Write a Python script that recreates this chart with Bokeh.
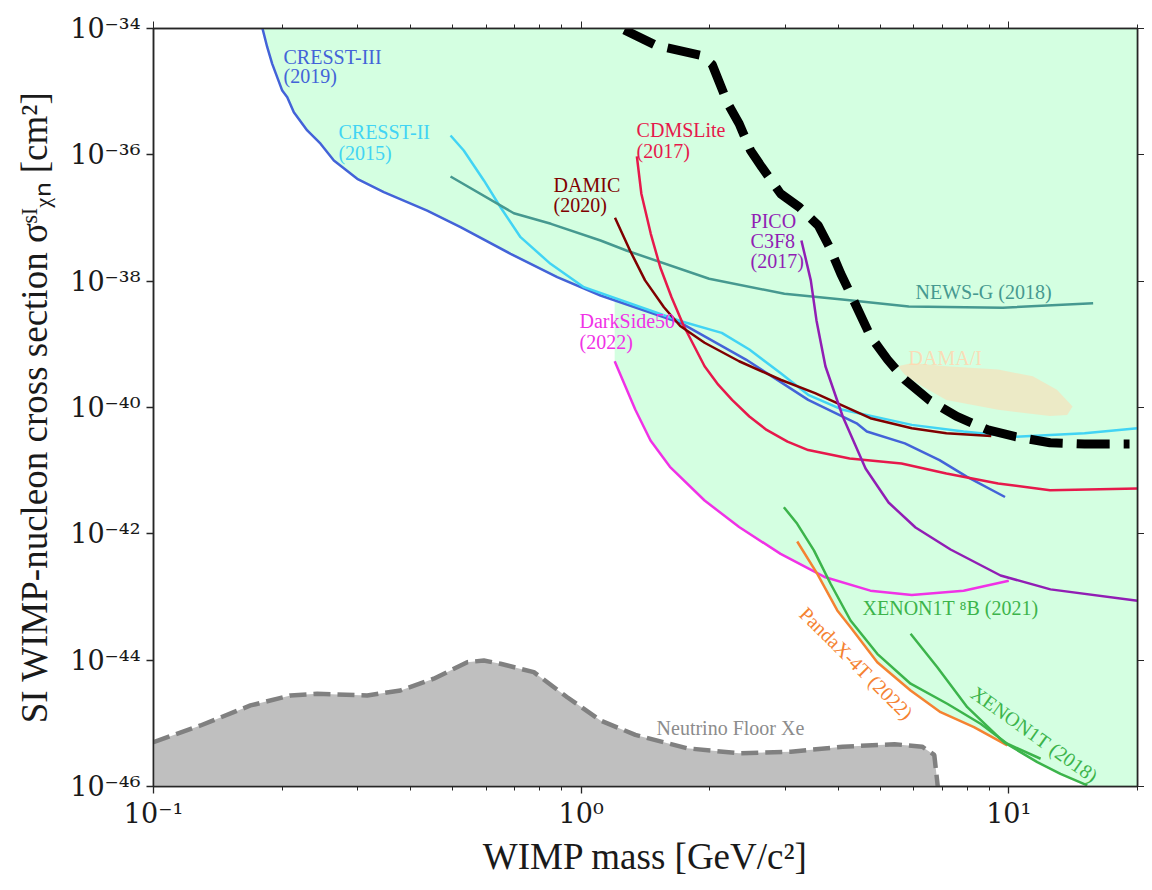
import numpy as np
from bokeh.plotting import figure
from bokeh.models import Range1d, FixedTicker, LogAxis, CustomJSTickFormatter
from bokeh.core.properties import value
from bokeh.embed import file_html
from bokeh.resources import INLINE

# ---------------- data (WIMP mass [GeV], cross section [cm^2]) ----------------
X_MIN, X_MAX = 0.1, 20.0
Y_MIN, Y_MAX = 1e-46, 1e-34
x_major = [0.1, 1.0, 10.0]
x_minor = [0.2, 0.3, 0.4, 0.5, 0.6, 0.7, 0.8, 0.9, 2, 3, 4, 5, 6, 7, 8, 9, 20]
y_major = [1e-46, 1e-44, 1e-42, 1e-40, 1e-38, 1e-36, 1e-34]

cresst3_m = [0.1795, 0.1845, 0.1895, 0.2000, 0.2055, 0.2129, 0.2288, 0.2458, 0.2641, 0.2995, 0.3456,
             0.4365, 0.5224, 0.6839, 0.8793, 1.110, 1.705, 2.429, 3.396, 4.408, 4.657, 5.715, 6.887,
             7.99, 9.80]
cresst3_s = [1.05e-34, 5.06e-35, 2.76e-35, 1.04e-35, 8.17e-36, 4.73e-36, 2.43e-36, 1.50e-36, 8.13e-37,
             4.18e-37, 2.56e-37, 1.31e-37, 7.16e-38, 2.71e-38, 1.16e-38, 5.93e-39, 2.20e-39, 5.74e-40,
             1.32e-40, 5.62e-41, 4.16e-41, 2.70e-41, 1.47e-41, 7.98e-42, 3.83e-42]

cresst2_m = [0.495, 0.5315, 0.5923, 0.6478, 0.7216, 0.848, 1.015, 1.705, 2.132, 2.474, 2.925, 3.396,
             4.09, 5.934, 7.84, 10.37, 15.04, 20.0]
cresst2_s = [2.02e-36, 1.17e-36, 3.93e-37, 1.48e-37, 4.97e-38, 1.88e-38, 8.03e-39, 2.34e-39, 1.52e-39,
             8.28e-40, 3.51e-40, 1.59e-40, 9.2e-41, 5.31e-41, 4.16e-41, 3.45e-41, 3.91e-41, 4.69e-41]

newsg_m = [0.495, 0.696, 0.850, 1.110, 1.276, 1.992, 2.988, 4.135, 5.837, 9.69, 15.75]
newsg_s = [4.54e-37, 1.19e-37, 8.09e-38, 4.41e-38, 3.06e-38, 1.09e-38, 6.31e-39, 5.07e-39, 3.97e-39,
           3.79e-39, 4.48e-39]

cdms_m = [1.350, 1.383, 1.455, 1.531, 1.627, 1.738, 1.944, 2.092, 2.254, 2.474, 2.715, 3.038, 3.396,
          4.245, 5.612, 7.147, 9.445, 12.49, 20.0]
cdms_s = [9.42e-37, 2.42e-37, 5.62e-38, 1.66e-38, 5.57e-39, 1.95e-39, 4.50e-40, 2.30e-40, 1.32e-40,
          7.21e-41, 4.41e-41, 2.88e-41, 2.12e-41, 1.56e-41, 1.30e-41, 9.04e-42, 6.27e-42, 4.90e-42,
          5.20e-42]

damic_m = [1.200, 1.301, 1.411, 1.562, 1.705, 1.944, 2.341, 2.927, 3.524, 4.746, 5.934, 7.147, 9.10]
damic_s = [1.01e-37, 3.06e-38, 1.03e-38, 3.87e-39, 1.95e-39, 1.06e-39, 5.40e-40, 2.75e-40, 1.69e-40,
           6.78e-41, 4.69e-41, 3.91e-41, 3.54e-41]

ds50_m = [1.198, 1.339, 1.453, 1.613, 1.944, 2.341, 2.927, 3.726, 4.746, 5.934, 7.84, 10.0]
ds50_s = [5.40e-40, 9.2e-41, 3.0e-41, 1.15e-41, 3.37e-42, 1.28e-42, 4.82e-43, 2.05e-43, 1.26e-43,
          1.08e-43, 1.26e-43, 1.81e-43]

pico_m = [3.274, 3.444, 3.551, 3.726, 4.09, 4.625, 5.235, 6.053, 7.31, 9.568, 12.52, 20.0]
pico_s = [4.41e-38, 1.03e-38, 2.39e-39, 4.50e-40, 7.21e-41, 1.08e-41, 3.13e-42, 1.26e-42, 5.65e-43,
          2.19e-43, 1.32e-43, 8.69e-44]

pandax_m = [3.201, 3.567, 3.972, 4.266, 4.926, 5.894, 6.927, 8.29, 9.92]
pandax_s = [7.57e-43, 2.33e-43, 6.12e-44, 3.33e-44, 9.29e-45, 3.31e-45, 1.50e-45, 8.69e-46, 4.47e-46]

xe8b_m = [2.979, 3.201, 3.502, 3.831, 4.266, 4.926, 5.894, 7.18, 8.59, 9.92, 11.87]
xe8b_s = [2.64e-42, 1.44e-42, 5.46e-43, 1.62e-43, 4.25e-44, 1.26e-44, 4.24e-45, 2.04e-45, 9.84e-46,
          4.75e-46, 2.75e-46]

xe18_m = [5.894, 6.806, 7.998, 9.74, 11.66, 13.21, 15.26]
xe18_s = [2.62e-44, 7.74e-45, 1.80e-45, 5.03e-46, 2.43e-46, 1.59e-46, 1.04e-46]

black_m = [1.262, 1.500, 1.914, 2.025, 2.204, 2.342, 2.490, 2.646, 2.928, 3.239, 3.585, 3.809, 4.048,
           4.302, 4.746, 5.207, 5.715, 6.510, 7.557, 8.94, 10.37, 12.49, 15.04, 19.16]
black_s = [9.5e-35, 5.38e-35, 3.74e-35, 2.69e-35, 6.43e-36, 3.10e-36, 1.17e-36, 6.37e-37, 2.42e-37,
           1.48e-37, 7.60e-38, 3.45e-38, 1.31e-38, 5.57e-39, 1.35e-39, 5.74e-40, 2.75e-40, 1.32e-40,
           7.21e-41, 4.41e-41, 3.45e-41, 2.77e-41, 2.64e-41, 2.64e-41]

floor_m = [0.1, 0.1288, 0.1686, 0.2091, 0.2414, 0.3161, 0.378, 0.4522, 0.5416, 0.5923, 0.6478, 0.775,
           0.928, 1.110, 1.339, 1.77, 2.341, 3.094, 4.09, 5.407, 6.272, 6.696, 6.823]
floor_s = [5.03e-46, 9.25e-46, 1.92e-45, 2.76e-45, 2.94e-45, 2.76e-45, 3.31e-45, 5.08e-45, 9.29e-45,
           9.88e-45, 8.77e-45, 6.46e-45, 2.59e-45, 1.11e-45, 6.56e-46, 4.03e-46, 3.36e-46, 3.56e-46,
           4.27e-46, 4.67e-46, 4.27e-46, 3.16e-46, 1.0e-46]

dama_m = [5.506, 5.934, 7.147, 9.445, 11.38, 12.96, 14.10, 13.70, 12.49, 9.445, 7.147, 6.272, 5.715]
dama_s = [4.50e-40, 5.08e-40, 4.50e-40, 3.98e-40, 3.12e-40, 1.91e-40, 1.04e-40, 7.64e-41, 7.36e-41,
          9.2e-41, 1.32e-40, 2.16e-40, 3.30e-40]

# ---------------- styles ----------------
C_BLUE, C_CYAN, C_TEAL, C_RED = "#4363d8", "#42d4f4", "#469990", "#e6194b"
C_MAROON, C_MAGENTA, C_PURPLE = "#800000", "#f032e6", "#911eb4"
C_ORANGE, C_GREEN, C_APRICOT = "#f58231", "#3cb44b", "#ffd8b1"
SERIF = "Liberation Serif"
TICK_FONT = "DejaVu Serif"

p = figure(width=1144, height=884, x_axis_type="log", y_axis_type="log",
           x_range=Range1d(X_MIN, X_MAX), y_range=Range1d(Y_MIN, Y_MAX),
           output_backend="svg", toolbar_location=None,
           min_border_left=153, min_border_right=7, min_border_top=28, min_border_bottom=98)
p.xgrid.visible = False
p.ygrid.visible = False
p.outline_line_color = "#262626"
p.outline_line_width = 1.5
p.background_fill_color = "white"
p.border_fill_color = "white"

sup_js = """
const sup = {"-":"\u207b","0":"\u2070","1":"\u00b9","2":"\u00b2","3":"\u00b3","4":"\u2074",
             "5":"\u2075","6":"\u2076","7":"\u2077","8":"\u2078","9":"\u2079"};
const e = Math.round(Math.log10(tick));
return "10" + String(e).split("").map(c => sup[c]).join("");
"""
blank_js = "return '';"

xa = p.xaxis[0]
ya = p.yaxis[0]
for ax in (xa, ya):
    ax.formatter = CustomJSTickFormatter(code=sup_js)
    ax.major_label_text_font = TICK_FONT
    ax.major_label_text_font_size = "27px"
    ax.major_label_text_color = "#1a1a1a"
    ax.axis_label_text_font = SERIF
    ax.axis_label_text_font_size = "37px"
    ax.axis_label_text_font_style = "normal"
    ax.axis_label_text_color = "#1a1a1a"
    ax.axis_line_color = "#262626"
    ax.axis_line_width = 1.5
    ax.major_tick_line_color = "#262626"
    ax.minor_tick_line_color = "#262626"
    ax.major_tick_line_width = 1.3
    ax.minor_tick_line_width = 1.0
    ax.major_tick_out = 7
    ax.major_tick_in = 0
    ax.minor_tick_in = 0

xa.ticker = FixedTicker(ticks=x_major, minor_ticks=x_minor)
xa.minor_tick_out = 4
xa.major_label_standoff = 4
xa.axis_label = "WIMP mass [GeV/c\u00b2]"
xa.axis_label_standoff = 4

ya.ticker = FixedTicker(ticks=y_major, minor_ticks=[])
ya.minor_tick_out = 0
ya.major_label_standoff = 6
ya.axis_label = "SI WIMP-nucleon cross section \u03c3\u02e2\u1d35\u1d6a\u2099 [cm\u00b2]"
ya.axis_label_standoff = 12

top_ax = LogAxis(ticker=FixedTicker(ticks=x_major, minor_ticks=x_minor),
                 formatter=CustomJSTickFormatter(code=blank_js),
                 major_label_text_font_size="0px", major_label_standoff=0,
                 major_tick_out=7, major_tick_in=0, minor_tick_out=4, minor_tick_in=0,
                 axis_line_color="#262626", axis_line_width=1.5,
                 major_tick_line_color="#262626", minor_tick_line_color="#262626")
right_ax = LogAxis(ticker=FixedTicker(ticks=y_major, minor_ticks=[]),
                   formatter=CustomJSTickFormatter(code=blank_js),
                   major_label_text_font_size="0px", major_label_standoff=0,
                   major_tick_out=7, major_tick_in=0, minor_tick_out=0, minor_tick_in=0,
                   axis_line_color="#262626", axis_line_width=1.5,
                   major_tick_line_color="#262626")
p.add_layout(top_ax, "above")
p.add_layout(right_ax, "right")

# ---------------- excluded region (above the lowest limit curve) ----------------
limit_curves = [(cresst3_m, cresst3_s), (cresst2_m, cresst2_s), (newsg_m, newsg_s), (cdms_m, cdms_s),
                (damic_m, damic_s), (ds50_m, ds50_s), (pico_m, pico_s), (pandax_m, pandax_s),
                (xe8b_m, xe8b_s), (xe18_m, xe18_s)]
g_lo, g_hi = cresst3_m[0], xe18_m[-1]
grid = np.logspace(np.log10(g_lo), np.log10(g_hi), 2000)
extra = []
for m, s in limit_curves:
    extra += [m[0], m[-1]]
grid = np.unique(np.concatenate([grid, np.array(extra)]))
grid = grid[(grid >= g_lo) & (grid <= g_hi)]
env = np.full(grid.shape, np.inf)
for m, s in limit_curves:
    v = np.interp(np.log10(grid), np.log10(m), np.log10(s), left=np.inf, right=np.inf)
    env = np.minimum(env, v)
poly_x = list(grid) + [X_MAX, X_MAX]
poly_y = list(10 ** env) + [Y_MIN, Y_MAX]
p.patch(poly_x, poly_y, fill_color="#aaffc3", fill_alpha=0.5, line_color=None)

# ---------------- neutrino floor ----------------
p.varea(x=floor_m, y1=[Y_MIN] * len(floor_m), y2=floor_s, fill_color="#bfbfbf")
p.line(floor_m, floor_s, line_color="#808080", line_width=4.5, line_dash="17 7")

# ---------------- DAMA/I ----------------
p.text(x=[5.831], y=[5.97e-40], text=["DAMA/I"], text_color=C_APRICOT, text_alpha=0.9,
       text_font=value(SERIF), text_font_size="20px", text_baseline="middle", text_align="left")
p.patch(dama_m, dama_s, fill_color=C_APRICOT, fill_alpha=0.55, line_color=None)

# ---------------- limit curves ----------------
LW = 2.5
p.line(cresst3_m, cresst3_s, line_color=C_BLUE, line_width=LW)
p.line(cresst2_m, cresst2_s, line_color=C_CYAN, line_width=LW)
p.line(newsg_m, newsg_s, line_color=C_TEAL, line_width=LW)
p.line(cdms_m, cdms_s, line_color=C_RED, line_width=LW)
p.line(damic_m, damic_s, line_color=C_MAROON, line_width=LW)
p.line(ds50_m, ds50_s, line_color=C_MAGENTA, line_width=LW)
p.line(pico_m, pico_s, line_color=C_PURPLE, line_width=LW)
p.line(pandax_m, pandax_s, line_color=C_ORANGE, line_width=LW)
p.line(xe8b_m, xe8b_s, line_color=C_GREEN, line_width=LW)
p.line(xe18_m, xe18_s, line_color=C_GREEN, line_width=LW)
p.line(black_m, black_s, line_color="black", line_width=9, line_dash="33 14", line_cap="butt")

# ---------------- labels ----------------
def lab(xs, ys, texts, color, angle=0.0, align="left", size="20px"):
    p.text(x=xs, y=ys, text=texts, text_color=color, angle=angle, text_font=value(SERIF),
           text_font_size=size, text_baseline="middle", text_align=align)

lab([0.2014, 0.2014], [3.60e-35, 1.80e-35], ["CRESST-III", "(2019)"], C_BLUE)
lab([0.2707, 0.2707], [2.26e-36, 1.05e-36], ["CRESST-II", "(2015)"], C_CYAN)
lab([0.862, 0.862], [3.27e-37, 1.58e-37], ["DAMIC", "(2020)"], C_MAROON)
lab([1.348, 1.348], [2.43e-36, 1.13e-36], ["CDMSLite", "(2017)"], C_RED)
lab([2.49, 2.49, 2.49], [8.81e-38, 4.25e-38, 2.05e-38], ["PICO", "C3F8", "(2017)"], C_PURPLE)
lab([6.053], [6.62e-39], ["NEWS-G (2018)"], C_TEAL)
lab([0.9915, 0.9915], [2.30e-39, 1.07e-39], ["DarkSide50", "(2022)"], C_MAGENTA)
lab([4.551], [6.58e-44], ["XENON1T \u2078B (2021)"], C_GREEN)
lab([4.406], [8.87e-45], ["PandaX-4T (2022)"], C_ORANGE, angle=-0.78, align="center")
lab([11.49], [6.67e-46], ["XENON1T (2018)"], C_GREEN, angle=-0.62, align="center")
lab([1.501], [8.30e-46], ["Neutrino Floor Xe"], "#8c8c8c")

open("out.html", "w").write(file_html(p, INLINE))
